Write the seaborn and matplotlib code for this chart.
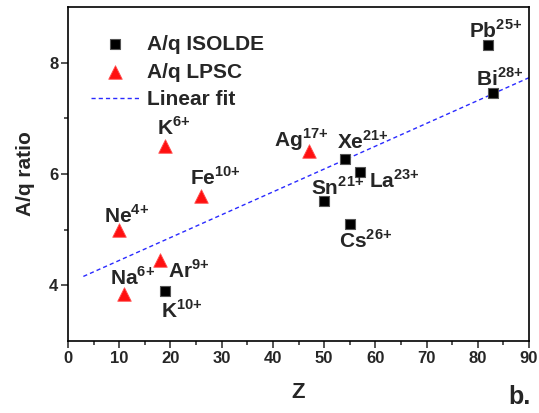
import pandas as pd
import matplotlib
matplotlib.use('Agg')
import matplotlib.pyplot as plt
import seaborn as sns

# ISOLDE data (Z, A/q)
iso_elem = ['K', 'Sn', 'Xe', 'Cs', 'La', 'Pb', 'Bi']
iso_charge = ['10', '21', '21', '26', '23', '25', '28']
iso_z = [19, 50, 54, 55, 57, 82, 83]
iso_aq = [3.89, 5.51, 6.27, 5.10, 6.03, 8.32, 7.46]

# LPSC data
lpsc_elem = ['Ne', 'Na', 'Ar', 'K', 'Fe', 'Ag']
lpsc_charge = ['4', '6', '9', '6', '10', '17']
lpsc_z = [10, 11, 18, 19, 26, 47]
lpsc_aq = [5.00, 3.84, 4.45, 6.50, 5.60, 6.41]

# linear fit end points
fit_z = [3, 90]
fit_aq = [4.16, 7.73]

# label offsets in pixels (left/baseline of the text relative to the marker)
iso_off = [(-4, -26), (-13, 6), (-8, 10), (-11, -24), (9, -15), (-19, 7), (-17, 7)]
lpsc_off = [(-15, 7), (-14, 9), (8, -18), (-8, 11), (-11, 11), (-35, 4)]

sns.set_style('ticks')
plt.rcParams['font.family'] = ['Liberation Sans', 'DejaVu Sans']
plt.rcParams['font.weight'] = 'bold'
plt.rcParams['mathtext.fontset'] = 'custom'
plt.rcParams['mathtext.rm'] = 'Liberation Sans:bold'
plt.rcParams['mathtext.bf'] = 'Liberation Sans:bold'

fig = plt.figure(figsize=(5.39, 4.13), dpi=100)
ax = fig.add_axes([68 / 539, 1 - 341 / 413, 461 / 539, 334 / 413])

iso = pd.DataFrame({'Z': iso_z, 'Aq': iso_aq})
lpsc = pd.DataFrame({'Z': lpsc_z, 'Aq': lpsc_aq})
fit = pd.DataFrame({'Z': fit_z, 'Aq': fit_aq})

sns.scatterplot(data=iso, x='Z', y='Aq', ax=ax, marker='s', s=60,
                color='black', edgecolor='#555555', linewidth=0.8,
                label='A/q ISOLDE', zorder=3)
sns.scatterplot(data=lpsc, x='Z', y='Aq', ax=ax, marker='^', s=95,
                color='#ff1010', edgecolor='#ff5050', linewidth=0.6,
                label='A/q LPSC', zorder=3)
sns.lineplot(data=fit, x='Z', y='Aq', ax=ax, color='#2a2aff', lw=1.0,
             dashes=False, label='Linear fit', zorder=2)
ax.lines[-1].set_dashes((3, 2.2))


def ion_label(el, ch, x, y, off):
    # element name with the charge state raised as a superscript
    ax.annotate(r'$\mathbf{%s}^{\mathbf{%s{+}}}$' % (el, ch), xy=(x, y), xytext=off,
                textcoords='offset pixels', ha='left', va='baseline', fontsize=15)


for el, ch, x, y, off in zip(iso_elem, iso_charge, iso_z, iso_aq, iso_off):
    ion_label(el, ch, x, y, off)
for el, ch, x, y, off in zip(lpsc_elem, lpsc_charge, lpsc_z, lpsc_aq, lpsc_off):
    ion_label(el, ch, x, y, off)

ax.set_xlim(0, 90)
ax.set_ylim(3, 9)
ax.set_xticks(range(0, 91, 10))
ax.set_xticks(range(5, 90, 10), minor=True)
ax.set_yticks([4, 6, 8])
ax.set_yticks([5, 7], minor=True)
ax.tick_params(which='both', direction='out', width=1.1, labelsize=12, pad=2)
ax.tick_params(which='major', length=5)
ax.tick_params(which='minor', length=3)
for sp in ax.spines.values():
    sp.set_visible(True)
    sp.set_linewidth(1.2)
    sp.set_color('black')

ax.set_xlabel('Z', fontsize=16, fontweight='bold', labelpad=12)
ax.set_ylabel('A/q ratio', fontsize=15, fontweight='bold', labelpad=10)

leg = ax.legend(loc='upper left', frameon=False, fontsize=15, handlelength=2.3,
                handletextpad=0.4, labelspacing=0.42, borderaxespad=0.7,
                bbox_to_anchor=(0.0, 0.985))

fig.text(0.985, 0.01, 'b.', ha='right', va='bottom', fontsize=18, fontweight='bold')

fig.savefig('out.png', dpi=100)
